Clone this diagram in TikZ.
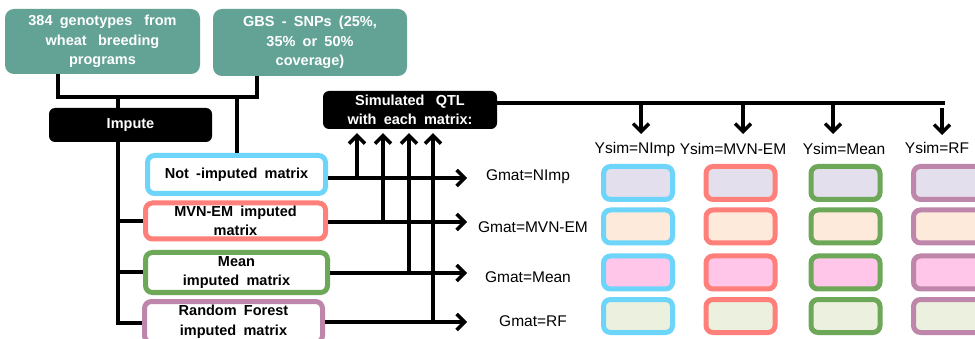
\documentclass[tikz,border=0pt]{standalone}
\usepackage{fontspec}
\setmainfont{Liberation Sans}
\newfontfamily\boxfont[WordSpace=1.8]{Liberation Sans}
\usetikzlibrary{arrows.meta}
\definecolor{tealc}{HTML}{62A396}
\definecolor{cblue}{HTML}{6ED5FA}
\definecolor{cred}{HTML}{FF807A}
\definecolor{cgreen}{HTML}{6CA858}
\definecolor{cpurp}{HTML}{BE86AA}
\definecolor{flav}{HTML}{E4DFEC}
\definecolor{fpeach}{HTML}{FDEADA}
\definecolor{fpink}{HTML}{FFC6EA}
\definecolor{fgreen}{HTML}{EBF1DE}
\tikzset{
  bxfont/.style={font=\boxfont\bfseries\fontsize{14.5}{19.5}\selectfont},
  tealbox/.style={fill=tealc, rounded corners=9pt, text=white, bxfont, align=center, inner sep=0pt},
  blackbox/.style={fill=black, rounded corners=6pt, text=white, bxfont, align=center, inner sep=0pt},
  matbox/.style={draw=#1, line width=5pt, fill=white, rounded corners=7pt, bxfont, align=center, inner sep=0pt},
  cell/.style 2 args={draw=#1, fill=#2, line width=5pt, rounded corners=7pt, minimum width=69pt, minimum height=33pt, inner sep=0pt},
  conn/.style={line width=4pt, line join=miter},
  arr/.style={line width=3.5pt, -{Straight Barb[length=8pt,width=16pt]}},
  lab/.style={font=\fontsize{15.5}{18}\selectfont, inner sep=0pt},
}
\begin{document}
\begin{tikzpicture}[x=1pt,y=-1pt]
\clip (0,0) rectangle (975,339);
\fill[white] (0,0) rectangle (975,339);
% top boxes
\node[tealbox, minimum width=195pt, minimum height=65pt] (gen) at (102.5,41.5) {384 genotypes\hspace{12pt}from\\wheat\hspace{4pt} breeding\\programs};
\node[tealbox, minimum width=194pt, minimum height=67pt] (gbs) at (310,42.5) {GBS - SNPs (25\%,\\35\% or 50\%\\coverage)};
\node[blackbox, minimum width=163pt, minimum height=34pt] (imp) at (130.5,125) {Impute};
\node[blackbox, minimum width=174pt, minimum height=38pt] (qtl) at (410,110) {Simulated\hspace{4pt} QTL\\with each matrix:};
% matrix boxes
\node[matbox=cblue, minimum width=178pt, minimum height=38pt] (ni) at (236.5,174.5) {Not -imputed matrix};
\node[matbox=cred, minimum width=180pt, minimum height=36pt] (mvn) at (235.5,221) {MVN-EM imputed\\matrix};
\node[matbox=cgreen, minimum width=182pt, minimum height=40pt] (mean) at (236.5,272.5) {Mean\\imputed matrix};
\node[matbox=cpurp, minimum width=178pt, minimum height=41pt] (rf) at (233.5,322) {Random Forest\\imputed matrix};
% connectors
\coordinate (j1) at (58,97);
\coordinate (j2) at (257,97);
\coordinate (ja) at (118,97);
\coordinate (jb) at (237,97);
\coordinate (jc) at (118,323);
\draw[conn] (gen.south -| j1) -- (j1) -- (j2) -- (j2 |- gbs.south);
\draw[conn] (ja) -- (ja |- imp.north);
\draw[conn] (jb) -- (jb |- ni.north);
\draw[conn] (imp.south -| jc) -- (jc) -- (rf.west |- jc);
\draw[conn] (jc |- mvn.west) -- (mvn.west);
\draw[conn] (jc |- mean.west) -- (mean.west);
% arrows to Gmat
\coordinate (e1) at (467,178);
\coordinate (e2) at (467,222);
\coordinate (e3) at (467,273);
\coordinate (e4) at (467,322);
\draw[arr] (ni.east |- e1) -- (e1);
\draw[arr] (mvn.east |- e2) -- (e2);
\draw[arr] (mean.east |- e3) -- (e3);
\draw[arr] (rf.east |- e4) -- (e4);
% up arrows to QTL
\coordinate (u1) at (357,178);
\coordinate (u2) at (383,222);
\coordinate (u3) at (409,273);
\coordinate (u4) at (433,322);
\foreach \u in {u1,u2,u3,u4} \draw[arr, shorten >=4pt] (\u) -- (\u |- qtl.south);
% Gmat labels
\node[lab] (g1) at (528,177) {Gmat=NImp};
\node[lab] (g2) at (533,227) {Gmat=MVN-EM};
\node[lab] (g3) at (528,277) {Gmat=Mean};
\node[lab] (g4) at (533,321) {Gmat=RF};
% top line and down arrows
\coordinate (t0) at (945,103);
\draw[conn] (qtl.east |- t0) -- (t0);
\coordinate (d1) at (641,103);
\coordinate (d2) at (743,103);
\coordinate (d3) at (833,103);
\coordinate (d4) at (942,108);
\node[lab] (y1) at (635,149) {Ysim=NImp};
\node[lab] (y2) at (733,149) {Ysim=MVN-EM};
\node[lab] (y3) at (844,149) {Ysim=Mean};
\node[lab] (y4) at (937,148) {Ysim=RF};
\foreach \d in {d1,d2,d3} \draw[arr] (\d) -- ++(0,31);
\draw[arr] (d4) -- ++(0,27);
% result cells
\foreach \cx/\bc [count=\j] in {638/cblue, 740.5/cred, 845.5/cgreen, 948/cpurp} {
  \foreach \cy/\fc [count=\i] in {183/flav, 226.5/fpeach, 272.5/fpink, 316/fgreen} {
    \node[cell={\bc}{\fc}] (c\i\j) at (\cx,\cy) {};
  }
}
\end{tikzpicture}
\end{document}
